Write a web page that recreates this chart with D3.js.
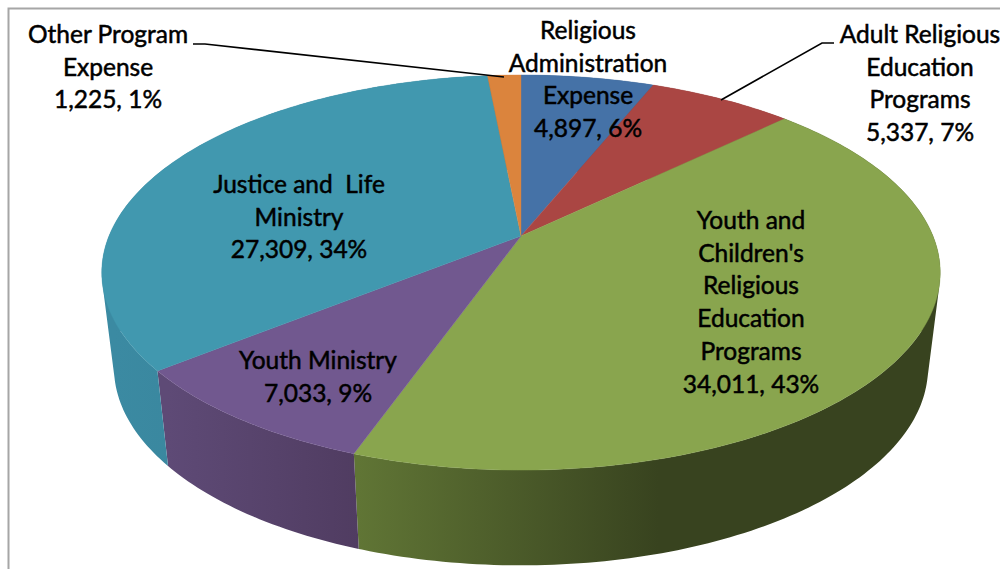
<!DOCTYPE html>
<html>
<head>
<meta charset="utf-8">
<script src="https://cdnjs.cloudflare.com/ajax/libs/d3/7.8.5/d3.min.js"></script>
<style>
html, body { margin: 0; padding: 0; background: #fff; }
svg { display: block; }
text { font-family: Lato, "Noto Sans", sans-serif; font-size: 24.5px; fill: #000; stroke: #000; stroke-width: 0.5px; text-anchor: middle; }
</style>
</head>
<body>
<div id="chart"></div>
<script>
var categories = ['Religious Administration Expense', 'Adult Religious Education Programs',
	"Youth and Children's Religious Education Programs", 'Youth Ministry',
	'Justice and Life Ministry', 'Other Program Expense'];
var values = [4897, 5337, 34011, 7033, 27309, 1225];
var percents = [6, 7, 43, 9, 34, 1];
var topColors = ['#4572a7', '#aa4643', '#89a54e', '#71588f', '#4198af', '#db843d'];
var sideColorsLeft = ['#34557d', '#7f3432', '#607535', '#5e4a76', '#3b8aa2', '#a46230'];
var sideColorsRight = ['#34557d', '#7f3432', '#38431f', '#503c61', '#357a90', '#a46230'];

// wrapped label lines and the baseline of the first line
var labelLines = [
	['Religious', 'Administration', 'Expense'],
	['Adult Religious', 'Education', 'Programs'],
	['Youth and', "Children's", 'Religious', 'Education', 'Programs'],
	['Youth Ministry'],
	['Justice and\u00a0\u00a0Life', 'Ministry'],
	['Other Program', 'Expense']
];
var labelX = [588, 920, 751, 318, 299, 108];
var labelTop = [39, 43, 229, 369, 193, 43];
var lineStep = 32.7;

var leaders = [
	[[193, 44], [205, 44], [504, 77]],
	[[834, 43], [822, 43], [721, 100]]
];

var width = 1000, height = 569;
var svg = d3.select('#chart').append('svg').attr('width', width).attr('height', height);

// frame, only left and top show
svg.append('path')
	.attr('d', 'M8.5,569V8.5H1000')
	.attr('fill', 'none')
	.attr('stroke', '#a6a6a6')
	.attr('stroke-width', 2);

// perspective of the excel 3d pie: far edge is squeezed, near edge stretched
var tilt = 0.185;
var topPlane = { cx: 521, cy: 236, rx: 412, ry: 190.8 };
var lowPlane = { cx: 521, cy: 331, rx: 400, ry: 191 };

function project(plane, a) {
	var w = 1 + tilt * Math.cos(a);
	return [plane.cx + plane.rx * Math.sin(a) / w, plane.cy - plane.ry * Math.cos(a) / w];
}

var pie = d3.pie().sort(null);
var arcs = pie(values);
var step = Math.PI / 180;
var line = d3.line();

function rimAngles(d) {
	return d3.range(d.startAngle, d.endAngle, step).concat([d.endAngle]);
}

// side walls first, the top faces cover whatever is hidden
var defs = svg.append('defs');
arcs.forEach(function (d, i) {
	var angles = rimAngles(d);
	var xs = d3.extent(angles, function (a) { return project(lowPlane, a)[0]; });
	var grad = defs.append('linearGradient')
		.attr('id', 'side' + i)
		.attr('gradientUnits', 'userSpaceOnUse')
		.attr('x1', xs[0])
		.attr('x2', i == 2 ? xs[0] + 300 : xs[1]) // green is flat dark past the middle
		.attr('y1', 0).attr('y2', 0);
	grad.append('stop').attr('offset', 0).attr('stop-color', sideColorsLeft[i]);
	grad.append('stop').attr('offset', 1).attr('stop-color', sideColorsRight[i]);

	// one path of small quads, all wound the same way so overlaps at the tangent stay filled
	var quads = d3.pairs(angles).map(function (p) {
		var q = [project(topPlane, p[0]), project(topPlane, p[1]), project(lowPlane, p[1]), project(lowPlane, p[0])];
		if (d3.polygonArea(q) < 0) q.reverse();
		return line(q) + 'Z';
	});
	svg.append('path')
		.attr('d', quads.join(''))
		.attr('fill', 'url(#side' + i + ')');
});

svg.append('g').selectAll('path')
	.data(arcs)
	.enter()
	.append('path')
	.attr('d', function (d) {
		var pts = rimAngles(d).map(function (a) { return project(topPlane, a); });
		return line([[topPlane.cx, topPlane.cy]].concat(pts)) + 'Z';
	})
	.attr('fill', function (d, i) { return topColors[i]; })
	.attr('stroke', function (d, i) { return topColors[i]; })
	.attr('stroke-width', 0.4);

svg.append('g').selectAll('path')
	.data(leaders)
	.enter()
	.append('path')
	.attr('d', line)
	.attr('fill', 'none')
	.attr('stroke', '#000')
	.attr('stroke-width', 1.6);

var fmt = d3.format(',');
var labels = svg.append('g').selectAll('text')
	.data(categories)
	.enter()
	.append('text')
	.attr('x', function (d, i) { return labelX[i]; })
	.attr('y', function (d, i) { return labelTop[i]; });

labels.each(function (d, i) {
	var lines = labelLines[i].concat([fmt(values[i]) + ', ' + percents[i] + '%']);
	d3.select(this).selectAll('tspan')
		.data(lines)
		.enter()
		.append('tspan')
		.attr('x', labelX[i])
		.attr('dy', function (l, j) { return j ? lineStep : 0; })
		.text(function (l) { return l; });
});
</script>
</body>
</html>
